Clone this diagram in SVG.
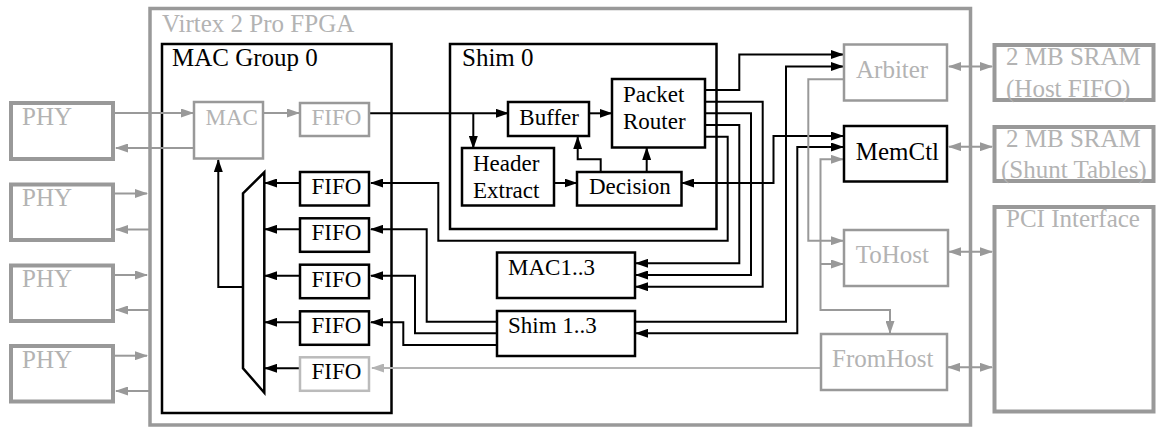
<svg xmlns="http://www.w3.org/2000/svg" width="1156" height="428" viewBox="0 0 1156 428">
<style>
.gb{fill:#fff;stroke:#999;stroke-width:2.5}
.lb{fill:#fff;stroke:#bbb;stroke-width:2.5}
.tk{fill:#fff;stroke:#999;stroke-width:4}
.bb{fill:#fff;stroke:#000;stroke-width:2.5}
text{font-family:"Liberation Serif","Times New Roman",serif;font-size:23px;fill:#000}
.L{font-size:25px}
.g{fill:#b3b3b3}
.c{fill:none;stroke:#000;stroke-width:2}
.cg{fill:none;stroke:#999;stroke-width:2}
.cl{fill:none;stroke:#b3b3b3;stroke-width:2}
.ae{marker-end:url(#ab)}
.aeg{marker-end:url(#ag)}
.abk{marker-start:url(#ab);marker-end:url(#ab)}
.abg{marker-start:url(#ag);marker-end:url(#ag)}
</style>
<defs>
<marker id="ab" markerUnits="userSpaceOnUse" markerWidth="13" markerHeight="9" viewBox="0 0 13 9" refX="12" refY="4.5" orient="auto-start-reverse"><path d="M0,0L13,4.5L0,9z" fill="#000"/></marker>
<marker id="ag" markerUnits="userSpaceOnUse" markerWidth="13" markerHeight="9" viewBox="0 0 13 9" refX="12" refY="4.5" orient="auto-start-reverse"><path d="M0,0L13,4.5L0,9z" fill="#999"/></marker>
<marker id="al" markerUnits="userSpaceOnUse" markerWidth="13" markerHeight="9" viewBox="0 0 13 9" refX="12" refY="4.5" orient="auto-start-reverse"><path d="M0,0L13,4.5L0,9z" fill="#b3b3b3"/></marker>
</defs>

<g id="fpga"><rect x="150" y="8.5" width="820.5" height="416.5" fill="#fff" stroke="#999" stroke-width="3.5"/><text x="162" y="32" class="L g">Virtex 2 Pro FPGA</text></g>
<g id="macgroup0"><rect x="162" y="44" width="229.5" height="369" class="bb"/><text x="172" y="66" class="L">MAC Group 0</text></g>
<g id="shim0"><rect x="450" y="44" width="266.5" height="185" class="bb"/><text x="462" y="66" class="L">Shim 0</text></g>

<g id="connectors">
<path class="cg aeg" d="M115,113H193"/>
<path class="cg aeg" d="M193,148H116"/>
<path class="cg aeg" d="M115,193.5H147"/>
<path class="cg aeg" d="M149,229.5H116"/>
<path class="cg aeg" d="M115,275H147"/>
<path class="cg aeg" d="M149,310H116"/>
<path class="cg aeg" d="M115,355.7H147"/>
<path class="cg aeg" d="M149,391H116"/>
<path class="cg aeg" d="M264,113H299"/>
<path class="c ae" d="M369.5,113.3H508"/>
<path class="c ae" d="M473.3,113.3V148"/>
<path class="c ae" d="M589.5,113.3H611.5"/>
<path class="c ae" d="M554.5,183H576.5"/>
<path class="c ae" d="M600.7,172V159.3H577.7V137"/>
<path class="c ae" d="M646.7,172V148"/>
<path class="c ae" d="M243,287H218.3V160"/>
<path class="c ae" d="M299,183H265"/>
<path class="c ae" d="M299,229.3H265"/>
<path class="c ae" d="M299,275.7H265"/>
<path class="c ae" d="M299,322.3H265"/>
<path class="c ae" d="M299,368.3H265"/>
<path class="c ae" d="M705,90H739.3V54.5H843"/>
<path class="c ae" d="M705,101.7H762.7V286.7H636"/>
<path class="c ae" d="M705,113.3H751V275H636"/>
<path class="c ae" d="M705,125H739.3V263.3H636"/>
<path class="c ae" d="M705,136.7H727.7V240.7H438.3V183H371"/>
<path class="c ae" d="M636,321.7H786V66.5H843"/>
<path class="c abk" d="M636,333.3H797.3V147H843"/>
<path class="c abk" d="M682,183H773.5V136H843"/>
<path class="c ae" d="M497,321.7H426.7V229.3H371"/>
<path class="c ae" d="M497,333.3H415V275.7H371"/>
<path class="c ae" d="M497,345H403.3V322.3H371"/>
<path class="cg aeg" d="M843,79.3H808.3V240.7H843"/>
<path class="cg abg" d="M843,159.3H820.5V310H890V333"/>
<path class="cg aeg" d="M820.5,264H843"/>
<path class="cl" d="M821,368H372" marker-end="url(#al)"/>
<path class="cg abg" d="M949,66.5H992"/>
<path class="cg abg" d="M949,146.7H992"/>
<path class="cg abg" d="M949,251.7H992"/>
<path class="cg abg" d="M948,367.3H992"/>
</g>

<g id="phy1"><rect x="11" y="103" width="102" height="56" class="tk"/><text x="22" y="125" class="L g">PHY</text></g>
<g id="phy2"><rect x="11" y="184.5" width="102" height="55.5" class="tk"/><text x="22" y="206" class="L g">PHY</text></g>
<g id="phy3"><rect x="11" y="265.5" width="102" height="55.5" class="tk"/><text x="22" y="287" class="L g">PHY</text></g>
<g id="phy4"><rect x="11" y="346" width="102" height="55.5" class="tk"/><text x="22" y="368" class="L g">PHY</text></g>

<g id="mac"><rect x="194" y="102" width="69" height="56.5" class="gb"/><text x="205.5" y="125" class="g">MAC</text></g>
<g id="fifo-in"><rect x="300" y="103" width="69" height="33" class="gb"/><text x="311.5" y="124.5" class="g">FIFO</text></g>
<g id="mux"><path d="M243,193.3L264.3,172.3V392.7L243,368.3Z" fill="#fff" stroke="#000" stroke-width="2.5" stroke-linejoin="miter"/></g>
<g id="fifo1"><rect x="300" y="172" width="69" height="33.5" class="bb"/><text x="311.5" y="194" >FIFO</text></g>
<g id="fifo2"><rect x="300" y="218.3" width="69" height="33.5" class="bb"/><text x="311.5" y="240.3">FIFO</text></g>
<g id="fifo3"><rect x="300" y="264.7" width="69" height="33.5" class="bb"/><text x="311.5" y="286.7">FIFO</text></g>
<g id="fifo4"><rect x="300" y="311.3" width="69" height="33.5" class="bb"/><text x="311.5" y="333.3">FIFO</text></g>
<g id="fifo5"><rect x="300" y="357.3" width="69" height="33.5" class="lb"/><text x="311.5" y="379.3">FIFO</text></g>

<g id="buffer"><rect x="508" y="102" width="81" height="34" class="bb"/><text x="519.3" y="125">Buffer</text></g>
<g id="packetrouter"><rect x="612" y="79" width="93" height="68.5" class="bb"/><text x="623" y="101.7">Packet</text><text x="623" y="129.3">Router</text></g>
<g id="headerextract"><rect x="462" y="148" width="92" height="57.5" class="bb"/><text x="473" y="170.7">Header</text><text x="473" y="198.3">Extract</text></g>
<g id="decision"><rect x="577" y="172" width="104.5" height="33.5" class="bb"/><text x="589" y="193.5">Decision</text></g>

<g id="mac13"><rect x="497" y="252.5" width="138" height="45.5" class="bb"/><text x="508" y="275">MAC1..3</text></g>
<g id="shim13"><rect x="497" y="311" width="138" height="45" class="bb"/><text x="508" y="333.3">Shim 1..3</text></g>

<g id="arbiter"><rect x="844" y="44.5" width="103" height="56" class="gb"/><text x="856" y="78.3" class="L g">Arbiter</text></g>
<g id="memctl"><rect x="844" y="126" width="103" height="55.5" class="bb"/><text x="855.7" y="160" class="L">MemCtl</text></g>
<g id="tohost"><rect x="844" y="230" width="104" height="56" class="gb"/><text x="855.7" y="263.3" class="L g">ToHost</text></g>
<g id="fromhost"><rect x="821" y="334" width="126" height="56" class="gb"/><text x="832" y="367.3" class="L g">FromHost</text></g>

<g id="sram1"><rect x="994.5" y="45" width="159" height="55" class="tk"/><text x="1006" y="65" class="L g">2 MB SRAM</text><text x="1006" y="96.5" class="L g">(Host FIFO)</text></g>
<g id="sram2"><rect x="994.5" y="127" width="159" height="54" class="tk"/><text x="1006" y="146.7" class="L g">2 MB SRAM</text><text x="1001" y="178.3" class="L g">(Shunt Tables)</text></g>
<g id="pci"><rect x="994.5" y="207" width="159" height="204.5" class="tk"/><text x="1006" y="227.3" class="L g">PCI Interface</text></g>
</svg>
